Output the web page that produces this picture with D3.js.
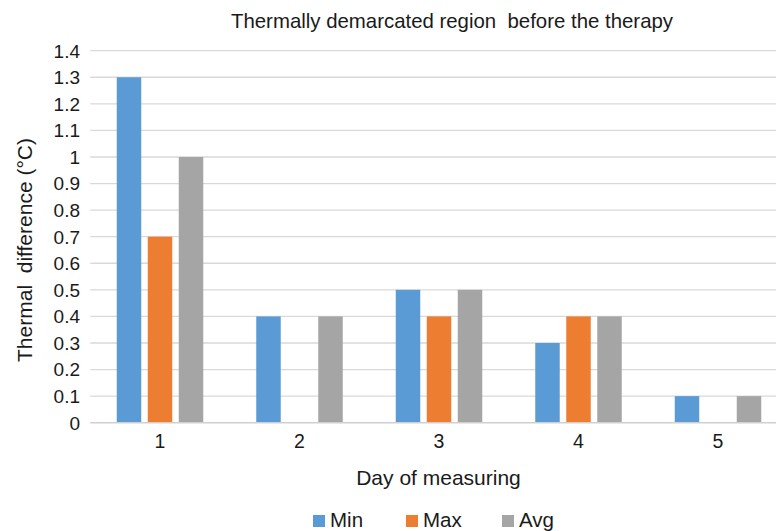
<!DOCTYPE html>
<html><head><meta charset="utf-8">
<script src="https://cdn.jsdelivr.net/npm/d3@7"></script>
<style>body{margin:0;background:#fff;}svg{display:block;font-family:"Liberation Sans",Arial,sans-serif;}</style>
</head><body>
<svg id="c" width="776" height="531"></svg>
<script>
const days = ["1","2","3","4","5"];
const seriesNames = ["Min","Max","Avg"];
const minVals = [1.3,0.4,0.5,0.3,0.1];
const maxVals = [0.7,0,0.4,0.4,0];
const avgVals = [1.0,0.4,0.5,0.4,0.1];
const colors = ["#5B9BD5","#ED7D31","#A5A5A5"];
const yTicks = [0,0.1,0.2,0.3,0.4,0.5,0.6,0.7,0.8,0.9,1,1.1,1.2,1.3,1.4];

const svg = d3.select("#c");
const pLeft = 90.25, pRight = 787.75, pTop = 50.7, pBottom = 422.7;
const x = d3.scaleBand().domain(days).range([pLeft,pRight]).paddingInner(0.38).paddingOuter(0.19);
const groupW = 86.5;
const xs = d3.scaleBand().domain(seriesNames).range([0,groupW]).paddingInner(0.21);
const y = d3.scaleLinear().domain([0,1.4]).range([pBottom,pTop]);

// gridlines
svg.append("g").selectAll("line").data(yTicks.filter(t=>t>0)).join("line")
  .attr("x1",pLeft).attr("x2",776).attr("y1",d=>y(d)).attr("y2",d=>y(d))
  .attr("stroke","#d9d9d9").attr("stroke-width",1.3);

// y tick labels
svg.append("g").selectAll("text").data(yTicks).join("text")
  .attr("x",80).attr("y",d=>y(d)).attr("dy","0.36em").attr("text-anchor","end")
  .attr("font-size",19).attr("fill","#1a1a1a").text(d=>d);

const data = [minVals,maxVals,avgVals];
seriesNames.forEach((s,i)=>{
  svg.append("g").selectAll("rect").data(days.map((d,j)=>({d,v:data[i][j]})).filter(o=>o.v>0)).join("rect")
    .attr("x",o=>x(o.d)+x.bandwidth()/2-groupW/2+xs(s))
    .attr("width",xs.bandwidth())
    .attr("y",o=>y(o.v)).attr("height",o=>pBottom-y(o.v))
    .attr("fill",colors[i]);
});

// x axis line
svg.append("line").attr("x1",pLeft).attr("x2",776).attr("y1",pBottom).attr("y2",pBottom)
  .attr("stroke","#d0d0d0").attr("stroke-width",1.5);

// x labels
svg.append("g").selectAll("text").data(days).join("text")
  .attr("x",d=>x(d)+x.bandwidth()/2).attr("y",448).attr("text-anchor","middle")
  .attr("font-size",19.5).attr("fill","#1a1a1a").text(d=>d);

svg.append("text").attr("x",438.5).attr("y",485).attr("text-anchor","middle")
  .attr("font-size",21).attr("fill","#1a1a1a").text("Day of measuring");

svg.append("text").attr("x",452).attr("y",28).attr("text-anchor","middle")
  .attr("font-size",20.4).attr("fill","#1a1a1a").style("white-space","pre")
  .text("Thermally demarcated region  before the therapy");

svg.append("text").attr("transform","translate(31.5,250) rotate(-90)").attr("text-anchor","middle")
  .attr("font-size",21).attr("fill","#1a1a1a").style("white-space","pre")
  .text("Thermal  difference (°C)");

// legend
const legX = [313,406,502];
seriesNames.forEach((s,i)=>{
  svg.append("rect").attr("x",legX[i]).attr("y",515).attr("width",12).attr("height",12).attr("fill",colors[i]);
  svg.append("text").attr("x",legX[i]+17).attr("y",527).attr("font-size",20.5).attr("fill","#1a1a1a").text(s);
});
</script>
</body></html>
